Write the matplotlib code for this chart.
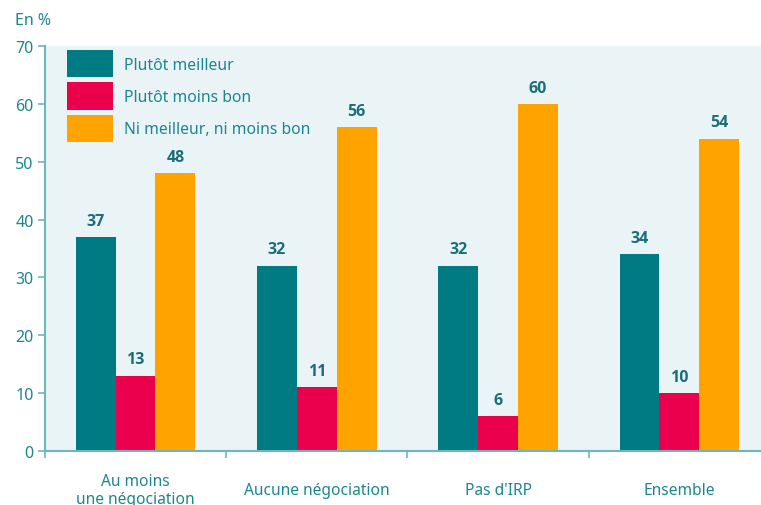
import numpy as np
import matplotlib.pyplot as plt
from matplotlib.patches import Patch

plt.rcParams['font.family'] = ['Noto Sans', 'DejaVu Sans']

categories = ["Au moins\nune négociation", "Aucune négociation", "Pas d'IRP", "Ensemble"]
series_names = ["Plutôt meilleur", "Plutôt moins bon", "Ni meilleur, ni moins bon"]
meilleur = [37, 32, 32, 34]
moins_bon = [13, 11, 6, 10]
ni_ni = [48, 56, 60, 54]

colors = ['#007a83', '#ea004c', '#ffa300']
txt = '#1b8690'
val_col = '#1a6f78'
axis_col = '#6db6bd'

fig = plt.figure(figsize=(7.61, 5.06), dpi=100)
ax = fig.add_axes([0.059, 0.107, 0.941, 0.800])
ax.set_facecolor('#eaf4f7')

x = np.arange(len(categories))
w = 0.22
for i, (vals, c) in enumerate(zip([meilleur, moins_bon, ni_ni], colors)):
    bars = ax.bar(x + (i - 1) * w, vals, w, color=c, edgecolor='none')
    for b, v in zip(bars, vals):
        ax.annotate(str(v), (b.get_x() + b.get_width() / 2, v), xytext=(0, 6),
                    textcoords='offset points', ha='center', va='bottom',
                    fontsize=11.5, fontweight='bold', color=val_col,
                    family=['Open Sans', 'DejaVu Sans'])

ax.set_xlim(-0.5, 3.45)
ax.set_ylim(0, 70)
ax.set_yticks(range(0, 71, 10))
ax.set_xticks(x)
ax.set_xticklabels(categories)
ax.set_xticks(np.arange(-0.5, 3.5, 1), minor=True)
ax.tick_params(axis='x', which='major', length=0, pad=28, labelsize=11.2, labelcolor=txt)
ax.tick_params(axis='x', which='minor', length=5, width=1.2, color=axis_col)
ax.tick_params(axis='y', length=5, width=1.2, color=axis_col, labelsize=11.5, labelcolor=txt, pad=3)
for lab in ax.get_xticklabels():
    lab.set_verticalalignment('center')
    lab.set_linespacing(1.2)

for s in ['top', 'right']:
    ax.spines[s].set_visible(False)
for s in ['left', 'bottom']:
    ax.spines[s].set_color(axis_col)
    ax.spines[s].set_linewidth(1.5)

handles = [Patch(facecolor=c, edgecolor='none') for c in colors]
leg = ax.legend(handles, series_names, loc='upper left', bbox_to_anchor=(0.031, 0.99),
                frameon=False, fontsize=11.3, handlelength=2.9, handleheight=2.3,
                labelspacing=0.32, handletextpad=0.75, borderpad=0, borderaxespad=0)
for t in leg.get_texts():
    t.set_color(txt)

fig.text(0.02, 0.958, "En %", fontsize=11.5, color=txt, va='center', ha='left')

fig.savefig('out.png', dpi=100)
